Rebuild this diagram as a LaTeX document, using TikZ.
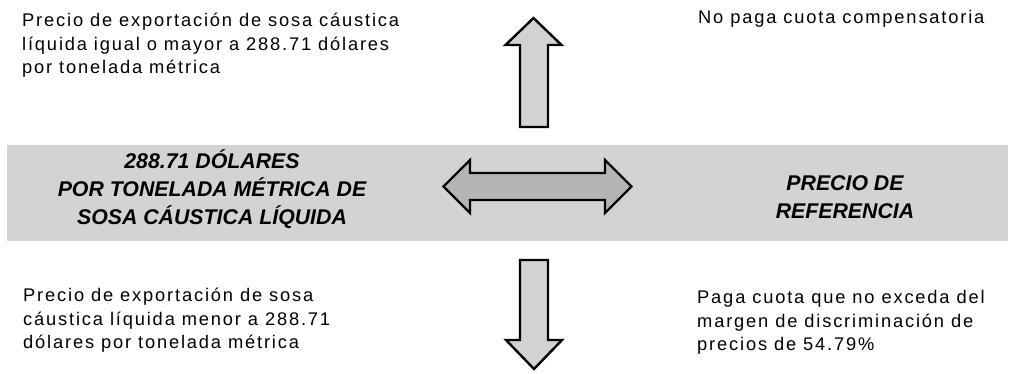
\documentclass[tikz,border=0pt]{standalone}
\usepackage{fontspec}
\setmainfont{Liberation Sans}
\newfontfamily\spacedfont[LetterSpace=10]{Liberation Sans}
\definecolor{bandgray}{HTML}{D3D3D3}
\definecolor{arrowgray}{HTML}{D2D2D2}
\definecolor{darkarrow}{HTML}{B5B5B5}
\tikzset{
  plaintext/.style={inner sep=0pt, anchor=base west, align=left,
    font=\spacedfont\fontsize{18.3}{23.5}\selectfont},
  bandtext/.style={inner sep=0pt, anchor=base, align=center,
    font=\bfseries\itshape\fontsize{21.3}{28}\selectfont},
  blockarrow/.style={draw=black, line width=2.4pt, line join=miter, fill=arrowgray},
}
\begin{document}
\begin{tikzpicture}[x=1pt,y=-1pt]
\useasboundingbox (0,0) rectangle (1010,373);
% band
\fill[bandgray] (7,145) rectangle (1008,241);
% arrows
\draw[blockarrow] (520,127) -- (520,45) -- (505.5,45) -- (533.5,18) -- (561.5,45) -- (548,45) -- (548,127) -- cycle;
\draw[blockarrow] (520,260) -- (548,260) -- (548,340) -- (562,340) -- (534,369) -- (506,340) -- (520,340) -- cycle;
\draw[blockarrow, fill=darkarrow] (443.5,186.5) -- (470,160) -- (470,173) -- (605,173) -- (605,160) -- (631.5,186.5) -- (605,213) -- (605,200) -- (470,200) -- (470,213) -- cycle;
% texts (base anchor = baseline of the last line)
\node[plaintext] (tl) at (22,73.5) {Precio de exportación de sosa cáustica\\líquida igual o mayor a 288.71 dólares\\por tonelada métrica};
\node[plaintext] (tr) at (698,23.5) {No paga cuota compensatoria};
\node[plaintext] (bl) at (23,348.5) {Precio de exportación de sosa\\cáustica líquida menor a 288.71\\dólares por tonelada métrica};
\node[plaintext] (br) at (697,350.5) {Paga cuota que no exceda del\\margen de discriminación de\\precios de 54.79\%};
\node[bandtext] (bl2) at (212,224) {288.71 DÓLARES\\POR TONELADA MÉTRICA DE\\SOSA CÁUSTICA LÍQUIDA};
\node[bandtext] (br2) at (845,218) {PRECIO DE\\REFERENCIA};
\end{tikzpicture}
\end{document}
